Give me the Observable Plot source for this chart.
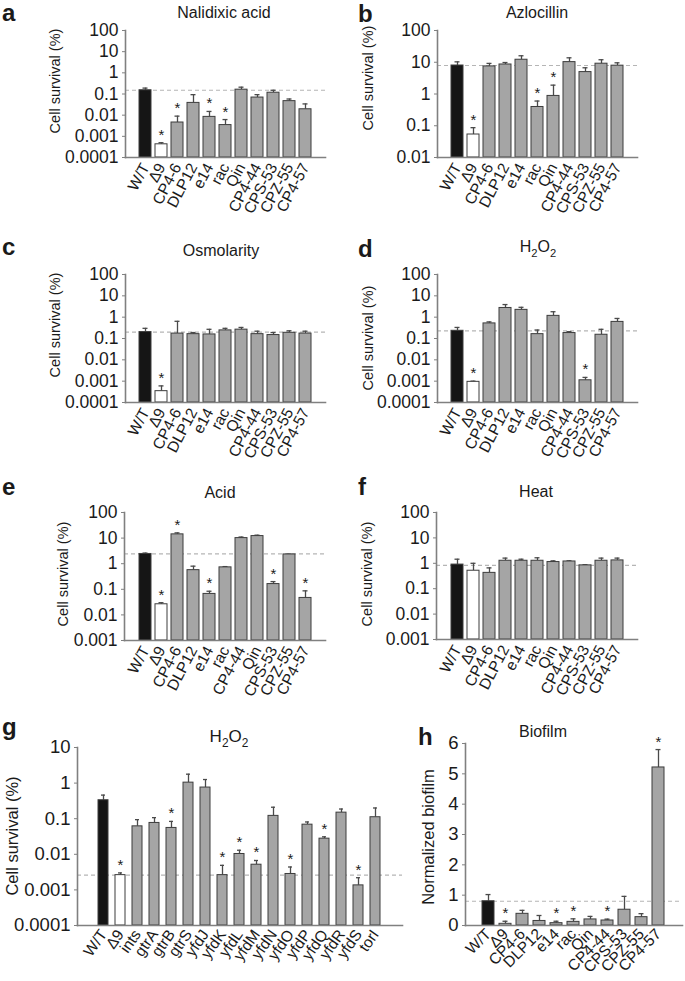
<!DOCTYPE html>
<html>
<head>
<meta charset="utf-8">
<script src="https://cdn.jsdelivr.net/npm/d3@7"></script>
<script src="https://cdn.jsdelivr.net/npm/@observablehq/plot@0.6"></script>
<style>
  body { margin: 0; background: #fff; }
  #fig { position: relative; width: 685px; height: 981px; overflow: hidden; font-family: "Liberation Sans", Arial, Helvetica, sans-serif; color: #1a1a1a; }
  #fig > svg.p { position: absolute; }
  #overlay { position: absolute; left: 0; top: 0; pointer-events: none; }
</style>
</head>
<body>
<div id="fig"></div>
<script>
// ---------- data ----------
const prophages = ["W/T","Δ9","CP4-6","DLP12","e14","rac","Qin","CP4-44","CPS-53","CPZ-55","CP4-57"];
const prophagesAcid = ["W/T","Δ9","CP4-6","DLP12","e14","rac","CP4-44","Qin","CPS-53","CPZ-55","CP4-57"];
const genesG = ["W/T","Δ9","ints","gtrA","gtrB","gtrS","yfdJ","yfdK","yfdL","yfdM","yfdN","yfdO","yfdP","yfdQ","yfdR","yfdS","torI"];

const nalidixicMean = [0.15,0.00042,0.0045,0.038,0.0083,0.0034,0.16,0.068,0.115,0.046,0.019];
const nalidixicErr  = [0.19,0.0005,0.009,0.093,0.015,0.0062,0.21,0.093,0.15,0.058,0.034];
const nalidixicStar = [0,1,1,0,1,1,0,0,0,0,0];

const azlocillinMean = [7.9,0.053,7.4,8.5,12,0.39,0.87,10.1,4.9,9,7.8];
const azlocillinErr  = [10.3,0.087,9.2,9.8,16,0.6,1.9,13.8,6.7,12,9.6];
const azlocillinStar = [0,1,0,0,0,1,1,0,0,0,0];

const osmoMean = [0.2,0.00034,0.17,0.16,0.155,0.24,0.26,0.16,0.145,0.185,0.17];
const osmoErr  = [0.3,0.0006,0.64,0.19,0.27,0.3,0.33,0.22,0.19,0.23,0.22];
const osmoStar = [0,1,0,0,0,0,0,0,0,0,0];

const h2o2Mean = [0.23,0.00093,0.51,2.7,2.2,0.16,1.15,0.18,0.0011,0.15,0.6];
const h2o2Err  = [0.33,0.001,0.6,3.9,2.9,0.25,1.8,0.21,0.0015,0.27,0.87];
const h2o2Star = [0,1,0,0,0,0,0,0,1,0,0];

const acidMean = [2.4,0.026,14,0.56,0.066,0.72,10,12,0.16,2.3,0.046];
const acidErr  = [2.6,0.03,16,0.8,0.084,0.77,11,13,0.2,2.35,0.087];
const acidStar = [0,1,1,0,1,0,0,0,1,0,1];

const heatMean = [0.89,0.51,0.42,1.26,1.26,1.26,1.12,1.18,0.83,1.26,1.3];
const heatErr  = [1.45,1.0,0.66,1.6,1.45,1.65,1.25,1.25,0.88,1.6,1.6];
const heatStar = [0,0,0,0,0,0,0,0,0,0,0];

const genesMean = [0.33,0.0026,0.061,0.076,0.055,1.03,0.75,0.0026,0.0102,0.0051,0.12,0.0028,0.068,0.0275,0.148,0.00134,0.11];
const genesErr  = [0.46,0.003,0.094,0.107,0.084,1.78,1.26,0.0049,0.013,0.0067,0.21,0.0044,0.081,0.031,0.187,0.0022,0.2];
const genesStar = [0,1,0,0,1,0,0,1,1,1,0,1,0,1,0,1,0];

const biofilmMean = [0.8,0.055,0.385,0.15,0.077,0.12,0.2,0.165,0.52,0.275,5.21];
const biofilmErr  = [1.02,0.14,0.5,0.33,0.14,0.22,0.3,0.21,0.96,0.39,5.8];
const biofilmStar = [0,1,0,0,1,1,0,1,0,0,1];

const ticks6 = [0.0001,0.001,0.01,0.1,1,10,100];
const ticks4 = [0.01,0.1,1,10,100];
const ticks5 = [0.001,0.01,0.1,1,10,100];
const ticksG = [0.0001,0.001,0.01,0.1,1,10];
const ticksH = [0,1,2,3,4,5,6];

// ---------- drawing ----------
const fig = document.getElementById("fig");
const FONT = '"Liberation Sans", Arial, Helvetica, sans-serif';

function panel(o) {
  const rows = o.cats.map((c, i) => ({c, v: o.mean[i], e: o.err[i], s: o.star[i], base: o.domain[0], i}));
  const fillOf = d => d.i === 0 ? "#151515" : d.i === 1 ? "#ffffff" : "#a5a5a5";
  const svg = Plot.plot({
    width: o.w, height: o.h,
    marginLeft: o.ml, marginRight: o.mr, marginTop: o.mt, marginBottom: o.mb,
    style: {fontFamily: FONT, fontSize: o.fsY + "px", color: "#1a1a1a", background: "transparent", overflow: "visible"},
    x: {domain: o.cats, paddingInner: o.pi, paddingOuter: o.po, label: null},
    y: {type: o.log ? "log" : "linear", domain: o.domain, label: null},
    marks: [
      Plot.ruleY([o.ref], {stroke: "#b5b5b5", strokeWidth: 1.2, strokeDasharray: "4,3"}),
      Plot.ruleX(rows, {x: "c", y1: "v", y2: "e", stroke: "#4a4a4a", strokeWidth: 1.3}),
      Plot.tickY(rows, {x: "c", y: "e", stroke: "#4a4a4a", strokeWidth: 1.3, insetLeft: o.cap, insetRight: o.cap}),
      Plot.barY(rows, {x: "c", y1: "base", y2: "v", fill: fillOf, stroke: "#3c3c3c", strokeWidth: 1}),
      Plot.text(rows.filter(d => d.s), {x: "c", y: "e", text: () => "*", dy: -3, lineAnchor: "bottom", fontSize: 15, fill: "#1a1a1a"}),
      Plot.axisY({ticks: o.ticks, tickFormat: d => String(d), tickSize: 3, tickPadding: o.tp, stroke: "#808080", fontSize: o.fsY, label: null}),
      Plot.axisX({tickRotate: o.rot, tickSize: 0, tickPadding: o.xp, fontSize: o.fsX, label: null}),
      Plot.frame({anchor: "left", stroke: "#808080", strokeWidth: 1.6}),
      Plot.frame({anchor: "bottom", stroke: "#808080", strokeWidth: 1.6})
    ]
  });
  svg.classList.add("p");
  svg.style.left = o.px + "px";
  svg.style.top = o.py + "px";
  svg.querySelectorAll('g[aria-label="x-axis tick label"], g[aria-label="x-axis tick label"] text')
    .forEach(n => { n.setAttribute("font-size", o.fsX); n.style.fontSize = o.fsX + "px"; });
  svg.querySelectorAll('g[aria-label="y-axis tick label"], g[aria-label="y-axis tick label"] text')
    .forEach(n => { n.setAttribute("font-size", o.fsY); n.style.fontSize = o.fsY + "px"; });
  fig.appendChild(svg);
}

const common = {log: true, pi: 0.28, po: 0.66, cap: 3.5, tp: 4, fsY: 17.5, fsX: 15.5, rot: -62, xp: 7};

panel({...common, cats: prophages, mean: nalidixicMean, err: nalidixicErr, star: nalidixicStar, ref: 0.15,
  domain: [0.0001, 100], ticks: ticks6, px: 0, py: 0, w: 340, h: 230, ml: 125, mr: 15, mt: 30, mb: 73});
panel({...common, cats: prophages, mean: azlocillinMean, err: azlocillinErr, star: azlocillinStar, ref: 7.9,
  domain: [0.01, 100], ticks: ticks4, px: 340, py: 0, w: 345, h: 230, ml: 97, mr: 48, mt: 30, mb: 73});
panel({...common, cats: prophages, mean: osmoMean, err: osmoErr, star: osmoStar, ref: 0.2,
  domain: [0.0001, 100], ticks: ticks6, px: 0, py: 230, w: 340, h: 230, ml: 125, mr: 15, mt: 44, mb: 58});
panel({...common, cats: prophages, mean: h2o2Mean, err: h2o2Err, star: h2o2Star, ref: 0.23,
  domain: [0.0001, 100], ticks: ticks6, px: 340, py: 230, w: 345, h: 230, ml: 97, mr: 48, mt: 44, mb: 58});
panel({...common, cats: prophagesAcid, mean: acidMean, err: acidErr, star: acidStar, ref: 2.4,
  domain: [0.001, 100], ticks: ticks5, px: 0, py: 460, w: 340, h: 240, ml: 124, mr: 15, mt: 52, mb: 60});
panel({...common, cats: prophages, mean: heatMean, err: heatErr, star: heatStar, ref: 0.83,
  domain: [0.001, 100], ticks: ticks5, px: 340, py: 460, w: 345, h: 240, ml: 96, mr: 48, mt: 52, mb: 61});
panel({...common, cats: genesG, mean: genesMean, err: genesErr, star: genesStar, ref: 0.0026,
  pi: 0.4, po: 0.77, cap: 3, tp: 4, fsY: 18.5, fsX: 15.5, rot: -55, xp: 6,
  domain: [0.0001, 10], ticks: ticksG, px: 0, py: 700, w: 440, h: 281, ml: 77, mr: 38, mt: 47, mb: 56});
panel({...common, log: false, cats: prophages, mean: biofilmMean, err: biofilmErr, star: biofilmStar, ref: 0.8,
  pi: 0.28, po: 0.72, cap: 3.5, tp: 4, fsY: 18.5, fsX: 15.5, rot: -45, xp: 6,
  domain: [0, 6], ticks: ticksH, px: 440, py: 700, w: 245, h: 281, ml: 25, mr: 3, mt: 43, mb: 56});

// ---------- text overlay: panel letters, titles, y labels ----------
const ov = d3.select(fig).append("svg").attr("id", "overlay").attr("width", 685).attr("height", 981)
  .style("font-family", FONT).style("fill", "#1a1a1a");

const letters = [["a",2,21],["b",358,22],["c",2,255],["d",358,257],["e",2,495],["f",358,495],["g",2,735],["h",418,745]];
ov.selectAll("text.letter").data(letters).join("text").attr("class","letter")
  .attr("x", d => d[1]).attr("y", d => d[2]).text(d => d[0])
  .style("font-weight", "bold").style("font-size", "24px");

const titles = [["Nalidixic acid",224,18],["Azlocillin",537,18],["Osmolarity",221,256],["Acid",220,498],["Heat",536,497],["Biofilm",543,737]];
ov.selectAll("text.title").data(titles).join("text").attr("class","title")
  .attr("x", d => d[1]).attr("y", d => d[2]).attr("text-anchor", "middle").text(d => d[0])
  .style("font-size", "16px");

function h2o2(x, y, fs) {
  const t = ov.append("text").attr("x", x).attr("y", y).attr("text-anchor", "middle").style("font-size", fs + "px");
  t.append("tspan").text("H");
  t.append("tspan").attr("dy", fs * 0.3).style("font-size", (fs * 0.7) + "px").text("2");
  t.append("tspan").attr("dy", -fs * 0.3).text("O");
  t.append("tspan").attr("dy", fs * 0.3).style("font-size", (fs * 0.7) + "px").text("2");
}
h2o2(538, 252, 16);
h2o2(229, 742, 17);

const ylabels = [["Cell survival (%)",60,81,14.5],["Cell survival (%)",373,78,14.5],["Cell survival (%)",60,325,14.5],["Cell survival (%)",373,338,14.5],
  ["Cell survival (%)",68,574,14.5],["Cell survival (%)",372,574,14.5],["Cell survival (%)",18,836,16.5],["Normalized biofilm",434,837,16.5]];
ov.selectAll("text.ylab").data(ylabels).join("text").attr("class","ylab")
  .attr("transform", d => `translate(${d[1]},${d[2]}) rotate(-90)`)
  .attr("text-anchor", "middle").text(d => d[0]).style("font-size", d => d[3] + "px");
</script>
</body>
</html>
